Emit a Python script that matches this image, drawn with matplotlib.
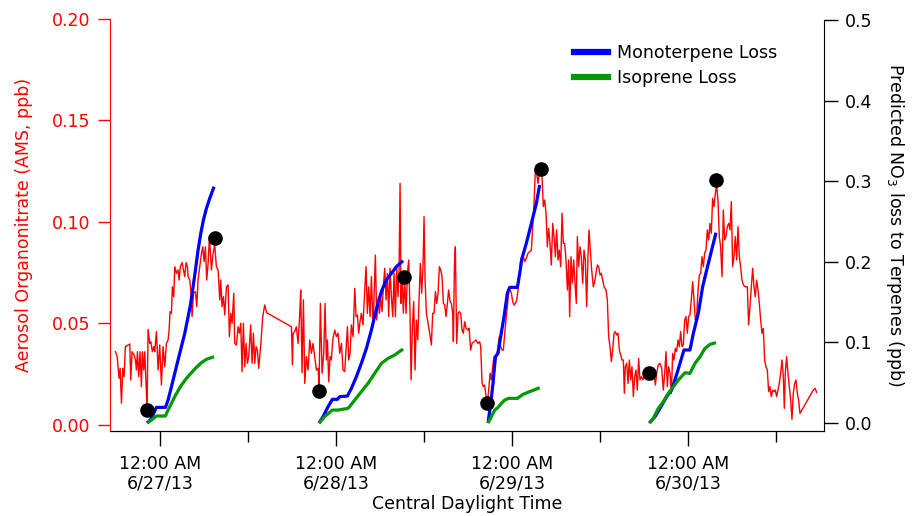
import matplotlib
matplotlib.use("Agg")
import matplotlib.pyplot as plt
import matplotlib.dates as mdates
from matplotlib.lines import Line2D
import pandas as pd
import numpy as np

plt.rcParams['font.family'] = ['DejaVu Sans']

# ---------------- data (hours relative to 6/27/13 00:00 CDT) ----------------
red_hours = [
 -6.09,-5.86,-5.59,-5.45,-5.27,-5.09,-4.91,-4.73,-4.36,-4.14,-4.00,-3.82,-3.55,-3.36,-3.23,-3.09,-2.91,-2.73,-2.55,-2.41,
 -2.23,-2.09,-1.95,-1.77,-1.64,-1.41,-1.27,-1.05,-0.86,-0.73,-0.50,-0.27,-0.05,0.18,0.41,0.64,0.86,1.09,1.23,1.36,
 1.55,1.68,1.86,2.00,2.23,2.45,2.59,2.77,3.00,3.18,3.36,3.55,3.73,3.82,4.05,4.27,4.36,4.55,4.82,5.00,
 5.18,5.36,5.64,5.82,6.00,6.18,6.36,6.55,6.73,7.00,7.23,7.45,7.68,7.91,8.14,8.27,8.45,8.64,8.82,9.05,
 9.27,9.45,9.64,9.82,10.05,10.18,10.41,10.64,10.82,11.00,11.18,11.36,11.55,11.73,11.91,12.09,12.36,12.55,12.73,12.91,
 13.09,13.27,13.45,13.73,14.00,14.27,14.55,17.91,18.05,18.14,18.36,18.59,18.82,19.05,19.18,19.36,19.55,19.73,19.95,20.18,
 20.41,20.64,20.86,21.09,21.32,21.55,21.68,21.86,22.09,22.32,22.50,22.68,22.82,23.00,23.18,23.36,23.55,23.82,24.05,24.27,
 24.50,24.73,24.95,25.18,25.41,25.55,25.73,25.91,26.09,26.32,26.55,26.73,26.91,27.09,27.27,27.45,27.68,27.91,28.09,28.27,
 28.45,28.64,28.82,29.05,29.18,29.36,29.55,29.73,29.91,30.09,30.27,30.45,30.64,30.82,31.00,31.18,31.36,31.55,31.73,31.91,
 32.09,32.27,32.45,32.59,32.73,32.86,33.00,33.18,33.36,33.55,33.73,33.91,34.09,34.23,34.41,34.59,34.77,34.95,35.14,35.32,
 35.50,35.68,35.86,36.00,36.14,36.32,36.55,36.77,37.00,37.18,37.36,37.55,37.73,37.91,38.09,38.27,38.45,38.64,38.82,39.00,
 39.18,39.36,39.55,39.73,39.91,40.00,40.14,40.27,40.45,40.64,40.82,41.00,41.18,41.36,41.55,41.73,42.00,42.14,42.36,42.55,
 42.82,43.09,43.36,43.59,43.73,43.91,44.09,44.27,44.45,44.64,44.82,45.00,45.18,45.36,45.55,45.73,45.91,46.09,46.27,46.45,
 46.64,46.82,47.00,47.18,47.36,47.55,47.73,47.91,48.09,48.27,48.45,48.64,48.82,49.00,49.18,49.36,49.55,49.73,49.95,50.18,
 50.41,50.64,50.82,51.00,51.18,51.36,51.55,51.73,51.91,52.09,52.27,52.45,52.64,52.82,53.00,53.18,53.36,53.55,53.73,53.91,
 54.09,54.27,54.45,54.64,54.82,55.00,55.18,55.36,55.55,55.73,55.86,56.05,56.23,56.41,56.59,56.77,56.91,57.09,57.27,57.45,
 57.64,57.82,58.00,58.18,58.36,58.50,58.68,58.86,59.09,59.27,59.45,59.64,59.82,60.00,60.18,60.36,60.55,60.82,61.00,61.18,
 61.36,61.55,61.73,61.91,62.09,62.27,62.45,62.64,62.82,63.00,63.18,63.32,63.45,63.64,63.82,64.00,64.18,64.36,64.55,64.73,
 64.91,65.09,65.27,65.45,65.64,65.86,66.09,66.32,66.55,66.82,67.00,67.18,67.36,67.55,67.73,67.95,68.18,68.41,68.64,68.82,
 69.00,69.18,69.36,69.55,69.73,69.91,70.09,70.27,70.45,70.64,70.82,71.00,71.18,71.36,71.55,71.73,71.91,72.09,72.27,72.45,
 72.64,72.82,73.00,73.18,73.36,73.55,73.73,73.91,74.09,74.27,74.45,74.64,74.82,75.00,75.18,75.36,75.55,75.73,75.91,76.09,
 76.27,76.45,76.64,76.82,77.00,77.18,77.36,77.55,77.73,77.91,78.09,78.27,78.45,78.64,78.82,79.00,79.18,79.36,79.55,79.82,
 80.09,80.27,80.45,80.64,80.82,81.00,81.18,81.36,81.55,81.73,81.91,82.09,82.27,82.45,82.64,82.82,83.00,83.18,83.36,83.55,
 83.73,83.91,84.09,84.27,84.45,84.64,84.82,85.00,85.14,85.27,85.45,85.64,85.82,86.00,86.18,86.36,86.55,86.73,86.91,87.09,
 87.27,89.09,89.32,89.55]
red_vals = [
 0.0361,0.0337,0.0230,0.0279,0.0107,0.0279,0.0238,0.0386,0.0394,0.0399,0.0222,0.0361,0.0345,0.0320,0.0271,0.0361,0.0238,0.0361,0.0189,0.0361,
 0.0271,0.0361,0.0238,0.0074,0.0471,0.0402,0.0411,0.0361,0.0386,0.0361,0.0460,0.0271,0.0394,0.0197,0.0386,0.0287,0.0402,0.0419,0.0468,0.0558,
 0.0550,0.0681,0.0632,0.0780,0.0747,0.0764,0.0714,0.0780,0.0800,0.0764,0.0731,0.0800,0.0780,0.0731,0.0714,0.0632,0.0534,0.0649,0.0657,0.0583,
 0.0714,0.0764,0.0846,0.0878,0.0805,0.0878,0.0714,0.0796,0.0928,0.0764,0.0846,0.0887,0.0780,0.0764,0.0616,0.0714,0.0583,0.0632,0.0542,0.0681,
 0.0690,0.0435,0.0550,0.0501,0.0649,0.0402,0.0394,0.0484,0.0452,0.0501,0.0263,0.0501,0.0287,0.0402,0.0304,0.0337,0.0493,0.0304,0.0452,0.0304,
 0.0386,0.0369,0.0279,0.0394,0.0534,0.0591,0.0553,0.0484,0.0296,0.0452,0.0460,0.0484,0.0402,0.0550,0.0665,0.0258,0.0616,0.0205,0.0337,0.0271,
 0.0419,0.0353,0.0402,0.0337,0.0271,0.0279,0.0189,0.0599,0.0255,0.0353,0.0599,0.0320,0.0419,0.0213,0.0337,0.0320,0.0419,0.0468,0.0435,0.0452,
 0.0353,0.0402,0.0271,0.0263,0.0402,0.0484,0.0320,0.0353,0.0493,0.0435,0.0673,0.0534,0.0542,0.0452,0.0509,0.0550,0.0493,0.0665,0.0780,0.0550,
 0.0681,0.0534,0.0731,0.0484,0.0632,0.0837,0.0517,0.0616,0.0550,0.0632,0.0558,0.0681,0.0772,0.0616,0.0747,0.0534,0.0772,0.0632,0.0534,0.0747,
 0.0534,0.0780,0.0632,0.0747,0.1190,0.0599,0.0747,0.0550,0.0714,0.0550,0.0747,0.0813,0.0550,0.0222,0.0484,0.0608,0.0271,0.0517,0.0419,0.0616,
 0.0796,0.0649,0.0780,0.1026,0.0714,0.0550,0.0501,0.0452,0.0394,0.0550,0.0550,0.0657,0.0599,0.0649,0.0780,0.0764,0.0731,0.0599,0.0591,0.0534,
 0.0599,0.0665,0.0608,0.0599,0.0550,0.0411,0.0780,0.0878,0.0402,0.0550,0.0558,0.0550,0.0468,0.0452,0.0509,0.0476,0.0468,0.0476,0.0369,0.0402,
 0.0410,0.0419,0.0402,0.0410,0.0386,0.0205,0.0189,0.0197,0.0140,0.0115,0.0172,0.0255,0.0222,0.0287,0.0337,0.0304,0.0345,0.0386,0.0435,0.0386,
 0.0369,0.0369,0.0452,0.0517,0.0583,0.0657,0.0665,0.0649,0.0608,0.0591,0.0599,0.0616,0.0665,0.0747,0.0813,0.0829,0.0829,0.0805,0.0821,0.0846,
 0.0854,0.0862,0.0977,0.1092,0.1256,0.1240,0.1190,0.1240,0.1256,0.1223,0.1076,0.1108,0.1043,0.0878,0.0969,0.0895,0.0788,0.0993,0.0928,0.0829,
 0.0961,0.0813,0.0862,0.0780,0.1043,0.0895,0.0895,0.0813,0.0665,0.0813,0.0534,0.0829,0.0698,0.0813,0.0698,0.0599,0.0928,0.0780,0.0878,0.0829,
 0.0698,0.0862,0.0813,0.0583,0.0829,0.0961,0.0862,0.0764,0.0681,0.0706,0.0747,0.0788,0.0780,0.0739,0.0747,0.0714,0.0681,0.0665,0.0616,0.0435,
 0.0386,0.0312,0.0369,0.0452,0.0460,0.0443,0.0452,0.0369,0.0345,0.0320,0.0320,0.0156,0.0287,0.0304,0.0205,0.0320,0.0222,0.0287,0.0140,0.0238,
 0.0271,0.0172,0.0328,0.0222,0.0238,0.0222,0.0255,0.0222,0.0255,0.0230,0.0246,0.0222,0.0255,0.0197,0.0255,0.0296,0.0304,0.0279,0.0172,0.0255,
 0.0361,0.0189,0.0287,0.0255,0.0156,0.0353,0.0320,0.0378,0.0361,0.0419,0.0386,0.0460,0.0386,0.0394,0.0517,0.0534,0.0452,0.0534,0.0542,0.0616,
 0.0706,0.0616,0.0517,0.0534,0.0657,0.0739,0.0747,0.0829,0.0780,0.0846,0.0862,0.0961,0.0911,0.0993,0.0944,0.1117,0.1076,0.1141,0.1182,0.1108,
 0.0928,0.0878,0.0731,0.1059,0.0911,0.0928,0.0977,0.0993,0.0961,0.1100,0.0780,0.0829,0.0928,0.0813,0.0977,0.0829,0.0780,0.0714,0.0690,0.0681,
 0.0681,0.0493,0.0583,0.0681,0.0772,0.0681,0.0632,0.0714,0.0665,0.0599,0.0517,0.0452,0.0476,0.0320,0.0287,0.0271,0.0164,0.0189,0.0140,0.0172,
 0.0164,0.0172,0.0140,0.0172,0.0205,0.0255,0.0320,0.0238,0.0082,0.0255,0.0337,0.0255,0.0189,0.0123,0.0028,0.0156,0.0205,0.0222,0.0156,0.0123,
 0.0057,0.0172,0.0181,0.0161]

# black markers (aerosol organonitrate, left axis)
dot_hours = [-1.82, 7.50, 21.68, 33.32, 44.64, 52.00, 66.68, 75.82]
dot_vals = [0.0074, 0.0920, 0.0167, 0.0731, 0.0107, 0.1261, 0.0255, 0.1207]

# predicted NO3 loss to monoterpenes (right axis), one list per night
mono_hours = [
 [-1.77,-1.27,-0.50,0.73,1.09,1.55,2.00,2.45,2.91,3.36,3.82,4.18,4.50,4.82,5.18,5.55,5.91,6.32,6.77,7.36],
 [21.68,22.23,22.91,23.50,24.18,24.50,25.55,26.09,26.77,27.45,28.14,28.82,29.36,29.82,30.27,30.86,31.55,32.23,33.14],
 [44.73,45.09,45.41,45.73,46.09,46.45,46.91,47.36,47.68,48.73,49.05,49.36,49.95,50.64,51.32,51.77],
 [66.73,67.50,68.18,69.09,69.77,70.36,70.91,71.45,72.27,72.73,73.41,74.00,74.55,75.23,75.82]]
mono_vals = [
 [0.0,0.0045,0.0194,0.0194,0.0285,0.0451,0.0616,0.0782,0.0947,0.1112,0.1319,0.1485,0.1691,0.1898,0.2146,0.2353,0.2519,0.2663,0.2787,0.2932],
 [0.0,0.0079,0.0203,0.0294,0.0294,0.0327,0.0335,0.0430,0.0575,0.0740,0.0926,0.1154,0.1361,0.1526,0.1650,0.1774,0.1857,0.1940,0.2014],
 [0.0,0.0244,0.0492,0.0823,0.0864,0.1071,0.1319,0.1609,0.1683,0.1683,0.1857,0.2043,0.2229,0.2477,0.2725,0.2953],
 [0.0,0.0079,0.0182,0.0327,0.0409,0.0575,0.0740,0.0906,0.0906,0.1112,0.1361,0.1691,0.1898,0.2146,0.2361]]

# predicted NO3 loss to isoprene (right axis)
iso_hours = [
 [-1.77,-1.18,-0.50,0.73,1.09,1.55,2.00,2.45,2.91,3.59,4.27,4.95,5.64,6.32,7.36],
 [21.68,22.45,23.50,24.27,25.64,26.55,27.45,28.36,29.27,30.18,31.09,32.00,33.14],
 [44.73,45.18,45.64,46.09,46.55,47.00,47.55,48.73,49.50,50.41,51.77],
 [66.73,67.27,67.95,68.64,69.32,70.00,70.68,71.59,72.27,72.95,73.64,74.32,75.00,75.82]]
iso_vals = [
 [0.0,0.0037,0.0087,0.0087,0.0161,0.0244,0.0327,0.0401,0.0471,0.0554,0.0624,0.0691,0.0749,0.0790,0.0823],
 [0.0,0.0079,0.0161,0.0161,0.0182,0.0285,0.0389,0.0492,0.0616,0.0740,0.0802,0.0844,0.0918],
 [0.0,0.0079,0.0161,0.0194,0.0244,0.0285,0.0306,0.0306,0.0356,0.0389,0.0438],
 [0.0,0.0058,0.0182,0.0265,0.0368,0.0451,0.0533,0.0624,0.0616,0.0740,0.0823,0.0926,0.0976,0.0997]]

major_tick_hours = [0, 24, 48, 72]
minor_tick_hours = [12, 36, 60, 84]
major_tick_labels = ["12:00 AM\n6/27/13", "12:00 AM\n6/28/13", "12:00 AM\n6/29/13", "12:00 AM\n6/30/13"]
x_range_hours = [-6.9, 90.55]

base = pd.Timestamp("2013-06-27 00:00")
def to_t(h):
    return mdates.date2num(base + pd.to_timedelta(np.asarray(h, dtype=float), unit="h"))

# ---------------- figure ----------------
fig = plt.figure(figsize=(9.16, 5.16), dpi=100)
ax = fig.add_axes([109.5/916, 1-431/516, (824-109.5)/916, (431-19)/516])
ax2 = ax.twinx()

RED = "#ff0000"
FS = 12.5
ax.plot(to_t(red_hours), red_vals, color=RED, lw=1.0, zorder=2)

for h, v in zip(mono_hours, mono_vals):
    ax2.plot(to_t(h), v, color="#0000ff", lw=2.3, solid_capstyle="butt", zorder=3)
for h, v in zip(iso_hours, iso_vals):
    ax2.plot(to_t(h), v, color="#009900", lw=2.3, solid_capstyle="butt", zorder=3)

ax2.plot(to_t(dot_hours), dot_vals, 'o', color="black", ms=9.5, transform=ax.transData, zorder=5)

ax.set_xlim(to_t(x_range_hours))
ax.set_ylim(-0.00296, 0.2)
ax2.set_ylim(-0.0099, 0.5012)

# left axis (red)
ax.set_yticks([0.0, 0.05, 0.10, 0.15, 0.20])
ax.set_yticklabels(["0.00", "0.05", "0.10", "0.15", "0.20"])
ax.tick_params(axis='y', colors=RED, labelcolor=RED, length=9, width=1, labelsize=FS, pad=5)
ax.spines['left'].set_color(RED)
ax.spines['top'].set_visible(False)
ax.spines['right'].set_visible(False)
ax.set_ylabel("Aerosol Organonitrate (AMS, ppb)", color=RED, fontsize=FS, labelpad=13)

# right axis
ax2.set_yticks([0.0, 0.1, 0.2, 0.3, 0.4, 0.5])
ax2.set_yticklabels(["0.0", "0.1", "0.2", "0.3", "0.4", "0.5"])
ax2.tick_params(axis='y', colors="black", length=10, width=1, labelsize=FS, pad=5)
ax2.spines['top'].set_visible(False)
ax2.spines['left'].set_visible(False)
ax2.spines['right'].set_bounds(-0.0099, 0.5)
ax2.set_ylabel("Predicted NO$_3$ loss to Terpenes (ppb)", fontsize=FS, rotation=-90, labelpad=24)

# x axis
ax.set_xticks(to_t(major_tick_hours))
ax.set_xticklabels(major_tick_labels)
ax.set_xticks(to_t(minor_tick_hours), minor=True)
ax.tick_params(axis='x', which='major', length=11, width=1, labelsize=FS, pad=6)
ax.tick_params(axis='x', which='minor', length=8, width=1)
for lab in ax.get_xticklabels():
    lab.set_linespacing(1.15)
ax.set_xlabel("Central Daylight Time", fontsize=FS, labelpad=2)

# legend
handles = [Line2D([], [], color="#0000ff", lw=4.5), Line2D([], [], color="#009900", lw=4.5)]
ax2.legend(handles, ["Monoterpene Loss", "Isoprene Loss"], frameon=False, fontsize=FS,
           loc="upper left", bbox_to_anchor=(0.64, 0.955), handlelength=2.0,
           handletextpad=0.5, labelspacing=0.4, borderaxespad=0)

fig.savefig("out.png", dpi=100)
